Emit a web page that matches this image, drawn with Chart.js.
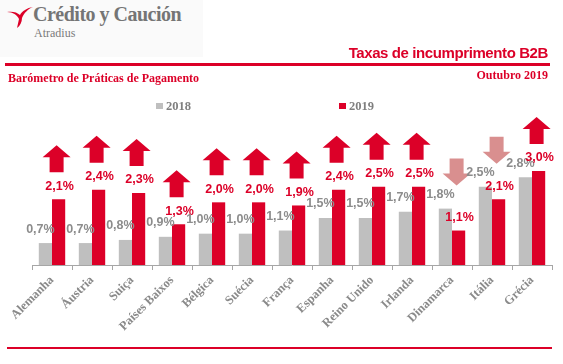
<!DOCTYPE html>
<html>
<head>
<meta charset="utf-8">
<script src="https://cdn.jsdelivr.net/npm/chart.js@4.4.1/dist/chart.umd.min.js"></script>
<style>
  html, body { margin: 0; padding: 0; background: #fff; }
  #wrap { position: relative; width: 563px; height: 364px; overflow: hidden; }
  #wrap canvas { position: absolute; left: 0; top: 0; }
  .abs { position: absolute; white-space: nowrap; }
  #logoBox { left: 0; top: 0; width: 203px; height: 57px; background: #fafafa; }
  #logoName { left: 33px; top: 3px; font: bold 20px 'Liberation Serif', serif; color: #757575; letter-spacing: -0.5px; }
  #logoSub { left: 34px; top: 26px; font: 12px 'Liberation Serif', serif; color: #7a7a7a; }
  #title { right: 15px; top: 44px; font: bold 15px 'Liberation Sans', sans-serif; color: #dc0028; letter-spacing: -0.4px; }
  #subLeft { left: 8px; top: 71px; font: bold 12px 'Liberation Serif', serif; color: #dc0028; }
  #subRight { right: 15px; top: 68px; font: bold 12px 'Liberation Serif', serif; color: #dc0028; }
  .rule { position: absolute; background: #dc0028; }
  .leg { position: absolute; top: 99px; font: bold 12.5px 'Liberation Serif', serif; color: #7f7f7f; }
  .leg i { display: inline-block; width: 7px; height: 6px; margin-right: 3px; vertical-align: 1px; }
</style>
</head>
<body>
<div id="wrap">
  <canvas id="chart" width="563" height="364"></canvas>
  <div id="logoBox" class="abs"></div>
  <svg class="abs" style="left:7px;top:7px" width="26" height="22" viewBox="0 0 26 22">
    <path d="M0 5 C6 5 10 8 12 12 L10 21 C13 19 15 15 15 11 C17 6 21 2 26 0 C20 1 15 4 13 8 C10 5 5 4 0 5 Z" fill="#dc0028"/>
  </svg>
  <div id="logoName" class="abs">Crédito y Caución</div>
  <div id="logoSub" class="abs">Atradius</div>
  <div id="title" class="abs">Taxas de incumprimento B2B</div>
  <div class="rule" style="left:5px;top:63px;width:545px;height:3px"></div>
  <div id="subLeft" class="abs">Barómetro de Práticas de Pagamento</div>
  <div id="subRight" class="abs">Outubro 2019</div>
  <div id="legend"></div>
  <div class="rule" style="left:7px;top:347px;width:545px;height:2px"></div>
</div>
<script>
// chart data
const countries = ['Alemanha', 'Áustria', 'Suiça', 'Países Baixos', 'Bélgica', 'Suécia', 'França',
                   'Espanha', 'Reino Unido', 'Irlanda', 'Dinamarca', 'Itália', 'Grécia'];
const seriesLabels = ['2018', '2019'];
const values2018 = [0.7, 0.7, 0.8, 0.9, 1.0, 1.0, 1.1, 1.5, 1.5, 1.7, 1.8, 2.5, 2.8];
const values2019 = [2.1, 2.4, 2.3, 1.3, 2.0, 2.0, 1.9, 2.4, 2.5, 2.5, 1.1, 2.1, 3.0];

const RED = '#dc0028';
const GREY = '#bfbfbf';
const PINK = '#d98f8f';

// legend as html
const legendColors = [GREY, RED];
const legendLeft = [156, 339];
document.getElementById('legend').innerHTML = seriesLabels.map((s, i) =>
    `<div class="leg" style="left:${legendLeft[i]}px"><i style="background:${legendColors[i]}"></i>${s}</div>`
).join('');

function fmt(v) {
    return v.toFixed(1).replace('.', ',') + '%';
}

// value labels + trend arrows
const decorations = {
    id: 'decorations',
    afterDatasetsDraw(chart) {
        const ctx = chart.ctx;
        const m0 = chart.getDatasetMeta(0).data;
        const m1 = chart.getDatasetMeta(1).data;
        ctx.save();
        ctx.font = "bold 12.5px 'Liberation Sans Narrow', 'Liberation Sans', sans-serif";
        ctx.textAlign = 'center';
        ctx.textBaseline = 'middle';
        m0.forEach((g, i) => {
            const r = m1[i];
            ctx.fillStyle = '#8c8c8c';
            ctx.fillText(fmt(values2018[i]), g.x - 5, g.y - 14);
            ctx.fillStyle = RED;
            ctx.fillText(fmt(values2019[i]), r.x + 1, r.y - 13);

            const up = values2019[i] > values2018[i];
            const cx = r.x - 2;
            const w = 28, hh = 12, sw = 14, h = 27;
            ctx.beginPath();
            if (up) {
                const b = r.y - 27, t = b - h;
                ctx.moveTo(cx, t);
                ctx.lineTo(cx + w / 2, t + hh);
                ctx.lineTo(cx + sw / 2, t + hh);
                ctx.lineTo(cx + sw / 2, b);
                ctx.lineTo(cx - sw / 2, b);
                ctx.lineTo(cx - sw / 2, t + hh);
                ctx.lineTo(cx - w / 2, t + hh);
                ctx.fillStyle = RED;
            } else {
                const b = Math.min(g.y, r.y) - 23, t = b - h;
                ctx.moveTo(cx, b);
                ctx.lineTo(cx + w / 2, b - hh);
                ctx.lineTo(cx + sw / 2, b - hh);
                ctx.lineTo(cx + sw / 2, t);
                ctx.lineTo(cx - sw / 2, t);
                ctx.lineTo(cx - sw / 2, b - hh);
                ctx.lineTo(cx - w / 2, b - hh);
                ctx.fillStyle = PINK;
            }
            ctx.closePath();
            ctx.fill();
        });
        ctx.restore();
    }
};

new Chart(document.getElementById('chart'), {
    type: 'bar',
    data: {
        labels: countries,
        datasets: [
            { label: seriesLabels[0], data: values2018, backgroundColor: GREY },
            { label: seriesLabels[1], data: values2019, backgroundColor: RED }
        ]
    },
    options: {
        responsive: false,
        animation: false,
        layout: { padding: { left: 32, right: 11, top: 124, bottom: 0 } },
        datasets: { bar: { categoryPercentage: 0.66, barPercentage: 1.0 } },
        plugins: { legend: { display: false }, tooltip: { enabled: false } },
        scales: {
            x: {
                afterFit: s => { s.height = 99; },
                border: { display: true, color: '#a6a6a6' },
                grid: { drawOnChartArea: false, drawTicks: true, tickLength: 5, color: '#a6a6a6', offset: true },
                ticks: {
                    autoSkip: false, minRotation: 45, maxRotation: 45, padding: 3,
                    color: '#8a8a8a',
                    font: { family: "'Liberation Serif', serif", weight: 'bold', size: 12.5 }
                }
            },
            y: { display: false, min: 0, max: 4.5 }
        }
    },
    plugins: [decorations]
});
</script>
</body>
</html>
